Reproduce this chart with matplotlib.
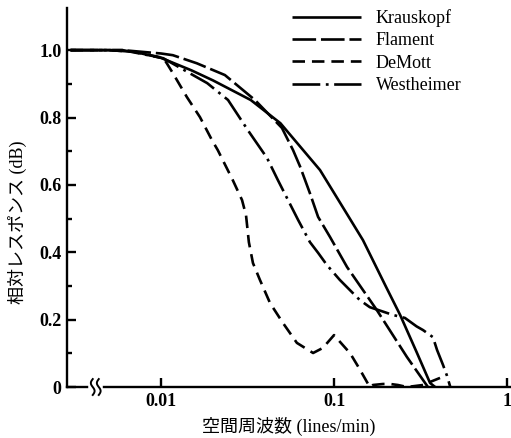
import numpy as np
import matplotlib
matplotlib.use("Agg")
import matplotlib.pyplot as plt
from matplotlib.transforms import blended_transform_factory

plt.rcParams['font.family'] = ['Liberation Serif', 'Noto Sans CJK JP']
plt.rcParams['lines.scale_dashes'] = False

# spatial frequency (lines/min) vs relative response
kr_x = [0.003, 0.005, 0.007, 0.01, 0.015, 0.02, 0.033, 0.049, 0.083, 0.12,
        0.147, 0.2, 0.241, 0.3, 0.359, 0.384]
kr_y = [1.0, 1.0, 0.995, 0.977, 0.94, 0.91, 0.852, 0.783, 0.644, 0.51,
        0.436, 0.297, 0.214, 0.104, 0.012, 0.0]

fl_x = [0.003, 0.006, 0.01, 0.0117, 0.0161, 0.0234, 0.0349, 0.05, 0.058,
        0.0636, 0.0726, 0.0809, 0.0949, 0.119, 0.177, 0.264, 0.349]
fl_y = [1.0, 1.0, 0.99, 0.985, 0.961, 0.926, 0.852, 0.769, 0.703,
        0.655, 0.575, 0.505, 0.445, 0.356, 0.228, 0.089, 0.0]

dm_x = [0.003, 0.005, 0.007, 0.0103, 0.0108, 0.0117, 0.0141, 0.0168, 0.0197,
        0.0213, 0.026, 0.0294, 0.031, 0.0322, 0.034, 0.0373, 0.0427, 0.0507,
        0.061, 0.0757, 0.0862, 0.1, 0.124, 0.14, 0.161, 0.168, 0.192, 0.211,
        0.234, 0.264, 0.327, 0.359, 0.41]
dm_y = [1.0, 1.0, 0.995, 0.977, 0.961, 0.932, 0.861, 0.801, 0.733,
        0.703, 0.614, 0.555, 0.51, 0.43, 0.368, 0.318, 0.249, 0.19,
        0.131, 0.101, 0.116, 0.154, 0.1, 0.055, 0.0, 0.006, 0.009, 0.009,
        0.006, 0.0, 0.006, 0.015, 0.027]

ws_x = [0.003, 0.006, 0.0103, 0.0185, 0.0244, 0.032, 0.041, 0.0474, 0.062,
        0.0726, 0.081, 0.091, 0.108, 0.141, 0.161, 0.219, 0.257, 0.3, 0.327,
        0.373, 0.394, 0.427, 0.45, 0.47]
ws_y = [1.0, 1.0, 0.976, 0.902, 0.852, 0.76, 0.68, 0.614, 0.496,
        0.43, 0.398, 0.362, 0.318, 0.258, 0.237, 0.214, 0.205, 0.18, 0.169,
        0.148, 0.11, 0.065, 0.033, 0.0]

names = ['Krauskopf', 'Flament', 'DeMott', 'Westheimer']
styles = ['-', (0, (17, 3.5)), (0, (9, 5)), (0, (20, 4, 2, 4))]

y_ticks = [0, 0.2, 0.4, 0.6, 0.8, 1.0]
y_ticklabels = ['0', '0.2', '0.4', '0.6', '0.8', '1.0']
x_ticks = [0.01, 0.1, 1]
x_ticklabels = ['0.01', '0.1', '1']

fig = plt.figure(figsize=(5.11, 4.38), dpi=100)
ax = fig.add_axes([0.131, 0.1164, 0.867, 0.8653])

series = [(kr_x, kr_y), (fl_x, fl_y), (dm_x, dm_y), (ws_x, ws_y)]
for (xs, ys), name, ls in zip(series, names, styles):
    ax.plot(xs, ys, color='black', lw=1.9, linestyle=ls, label=name,
            solid_capstyle='butt', dash_capstyle='butt')

ax.set_xscale('log')
ax.set_xlim(0.00286, 1.04)
ax.set_ylim(0, 1.125)

for side in ['top', 'right']:
    ax.spines[side].set_visible(False)
for side in ['left', 'bottom']:
    ax.spines[side].set_linewidth(1.7)

ax.set_yticks(y_ticks)
ax.set_yticklabels(y_ticklabels, fontweight='bold')
ax.set_yticks([0.1, 0.3, 0.5, 0.7, 0.9], minor=True)
ax.set_xticks(x_ticks)
ax.set_xticklabels(x_ticklabels, fontweight='bold')
ax.xaxis.set_minor_locator(matplotlib.ticker.NullLocator())
ax.tick_params(axis='both', which='major', direction='in', length=6.5,
               width=1.7, labelsize=13, pad=4)
ax.tick_params(axis='y', which='minor', direction='in', length=3.8, width=1.7)

ax.set_xlabel('空間周波数 (lines/min)', fontsize=13, labelpad=5)
ax.set_ylabel('相対レスポンス (dB)', fontsize=13)
ax.yaxis.set_label_coords(-0.09, 0.435)

# axis break mark on the x axis
trans = blended_transform_factory(ax.transData, ax.transAxes)
bx = 0.0042
ax.plot([bx * 0.94, bx * 1.06], [0, 0], color='white', lw=4,
        transform=trans, clip_on=False, zorder=5)
t = np.linspace(-1, 1, 40)
for k in (0.96, 1.04):
    ax.plot(bx * k * (1 - 0.025 * np.sin(np.pi * t)), 0.021 * t,
            color='black', lw=1.4, transform=trans, clip_on=False, zorder=6)

leg = ax.legend(loc='upper left', bbox_to_anchor=(292 / 511, 1 - 9 / 438),
                bbox_transform=fig.transFigure, borderpad=0, borderaxespad=0,
                frameon=False, fontsize=13, handlelength=3.8,
                handletextpad=0.85, labelspacing=0.3)

fig.savefig('out.png', dpi=100)
